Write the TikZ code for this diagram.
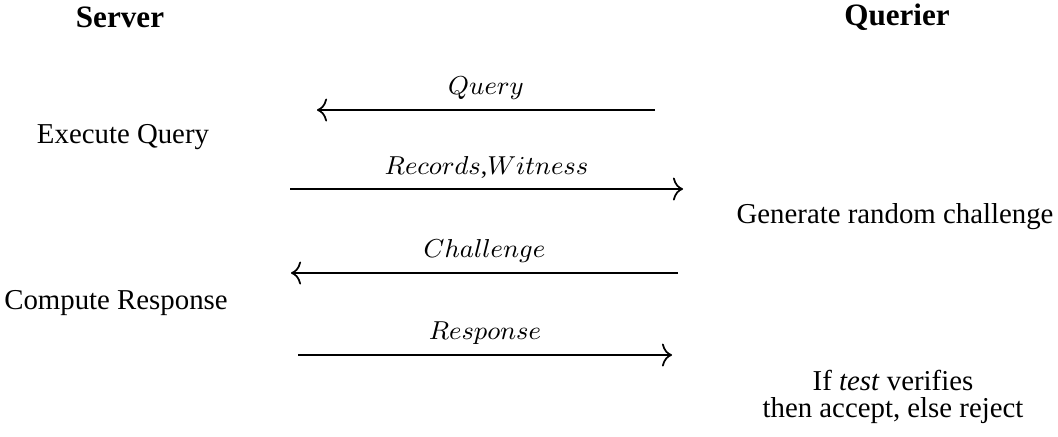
\documentclass[tikz,border=0pt]{standalone}
\usepackage{fontspec}
\setmainfont{Liberation Serif}
\usetikzlibrary{arrows.meta}

\tikzset{
  party/.style={anchor=center,font=\fontsize{10.8}{13}\selectfont\bfseries},
  msg/.style={line width=0.6pt,-{To[length=3.5pt,width=8pt]}},
  msglabel/.style={above,font=\small}
}

\begin{document}
\begin{tikzpicture}[x=0.347pt,y=-0.347pt]
    \useasboundingbox (0,0) rectangle (1058,436);
    % parties
    \node[party] (server) at (120,17) {Server};
    \node[party] (querier) at (897,17) {Querier};
    % local steps
    \node[anchor=center] (exec) at (123,137) {Execute Query};
    \node[anchor=center] (gen) at (895,217) {Generate random challenge};
    \node[anchor=center] (comp) at (116,303) {Compute Response};
    \node[anchor=center,align=center,font=\fontsize{10}{9.4}\selectfont] (test) at (893,397) {If \textit{test} verifies\\then accept, else reject};
    % messages
    \coordinate (q1) at (655,110);   \coordinate (q2) at (317,110);
    \coordinate (r1) at (290,189);   \coordinate (r2) at (683,189);
    \coordinate (c1) at (678,273);   \coordinate (c2) at (291,273);
    \coordinate (p1) at (298,355);   \coordinate (p2) at (672,355);
    \draw[msg] (q1) -- node[msglabel] (qlab) {$Query$} (q2);
    \draw[msg] (r1) -- node[msglabel] (rlab) {$Records$,$Witness$} (r2);
    \draw[msg] (c1) -- node[msglabel] (clab) {$Challenge$} (c2);
    \draw[msg] (p1) -- node[msglabel] (plab) {$Response$} (p2);
\end{tikzpicture}
\end{document}
